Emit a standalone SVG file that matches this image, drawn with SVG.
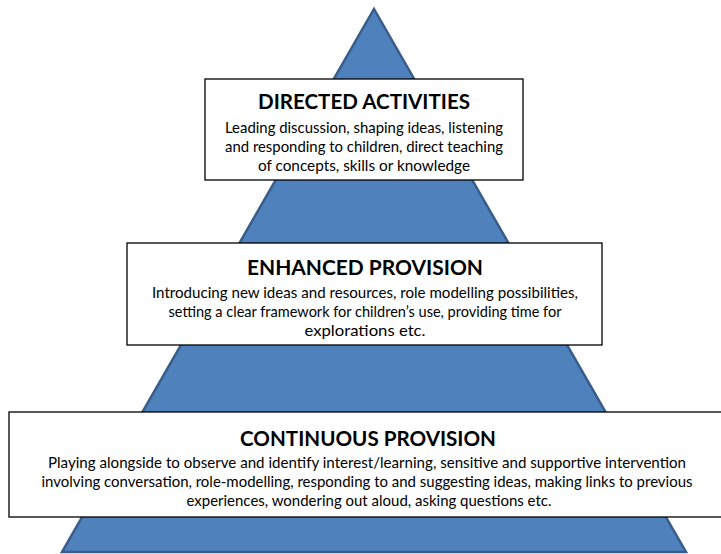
<svg xmlns="http://www.w3.org/2000/svg" width="721" height="554" viewBox="0 0 721 554">
<style>
.tri{fill:#4f81bd;stroke:#385d8a;stroke-width:2.5;stroke-linejoin:miter}
.box{fill:#ffffff;stroke:#000000;stroke-width:1.3}
.t{font-family:Lato,"Open Sans","Liberation Sans",sans-serif;font-weight:bold;font-size:20px;fill:#000;text-anchor:middle}
.b{font-family:Lato,"Open Sans","Liberation Sans",sans-serif;font-size:15px;fill:#000;text-anchor:middle}
</style>
<rect width="721" height="554" fill="#ffffff"/>
<g id="pyramid">
<polygon class="tri" points="374,9 686,552 62,552"/>
</g>
<g id="connectors"></g>
<g id="directed">
<rect class="box" x="205" y="79" width="318" height="101"/>
<text class="t" x="364" y="109" textLength="212" lengthAdjust="spacingAndGlyphs">DIRECTED ACTIVITIES</text>
<text class="b" x="364" y="133" textLength="278" lengthAdjust="spacingAndGlyphs">Leading discussion, shaping ideas, listening</text>
<text class="b" x="364" y="152" textLength="278" lengthAdjust="spacingAndGlyphs">and responding to children, direct teaching</text>
<text class="b" x="364" y="171" textLength="212" lengthAdjust="spacingAndGlyphs">of concepts, skills or knowledge</text>
</g>
<g id="enhanced">
<rect class="box" x="127" y="243" width="475" height="102"/>
<text class="t" x="365" y="275" textLength="236" lengthAdjust="spacingAndGlyphs">ENHANCED PROVISION</text>
<text class="b" x="365" y="298" textLength="426" lengthAdjust="spacingAndGlyphs">Introducing new ideas and resources, role modelling possibilities,</text>
<text class="b" x="365" y="317" textLength="393" lengthAdjust="spacingAndGlyphs">setting a clear framework for children’s use, providing time for</text>
<text class="b" x="365" y="336" textLength="121" lengthAdjust="spacingAndGlyphs">explorations etc.</text>
</g>
<g id="continuous">
<rect class="box" x="9" y="412" width="720" height="105"/>
<text class="t" x="368" y="446" textLength="256" lengthAdjust="spacingAndGlyphs">CONTINUOUS PROVISION</text>
<text class="b" x="367" y="468" textLength="638" lengthAdjust="spacingAndGlyphs">Playing alongside to observe and identify interest/learning, sensitive and supportive intervention</text>
<text class="b" x="367" y="487" textLength="651" lengthAdjust="spacingAndGlyphs">involving conversation, role-modelling, responding to and suggesting ideas, making links to previous</text>
<text class="b" x="369" y="506" textLength="365" lengthAdjust="spacingAndGlyphs">experiences, wondering out aloud, asking questions etc.</text>
</g>
</svg>
